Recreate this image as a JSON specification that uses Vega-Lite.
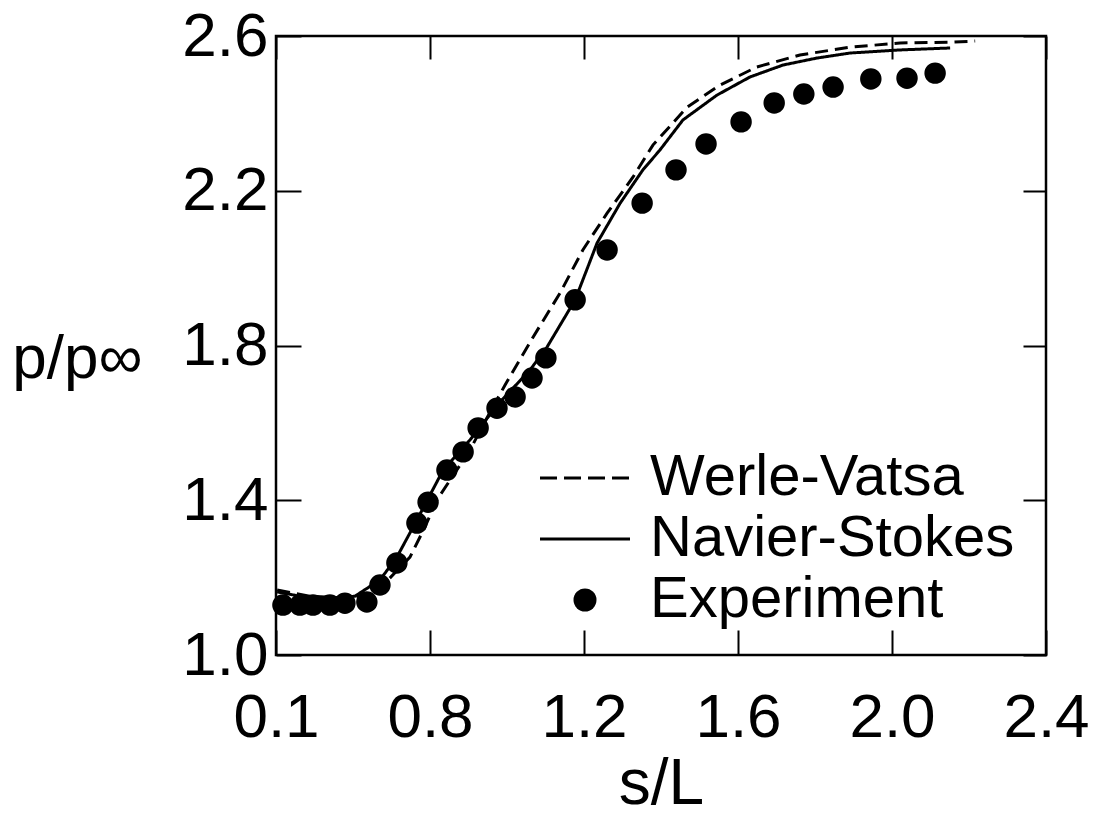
{
  "$schema": "https://vega.github.io/schema/vega-lite/v6.json",
  "width": 770,
  "height": 619,
  "autosize": "none",
  "padding": {"left": 276, "top": 36, "right": 61, "bottom": 164},
  "background": "white",
  "config": {
    "view": {"stroke": "black", "strokeWidth": 2.5},
    "font": "Liberation Sans",
    "axis": {"domain": false, "grid": false, "tickColor": "black", "tickWidth": 2, "labelColor": "black", "titleColor": "black", "labelFont": "Liberation Sans", "titleFont": "Liberation Sans", "titleFontWeight": "normal"}
  },
  "datasets": {
    "curves": [
      {"series": "Werle-Vatsa", "s": 0.403, "p": 1.168},
      {"series": "Werle-Vatsa", "s": 0.488, "p": 1.152},
      {"series": "Werle-Vatsa", "s": 0.592, "p": 1.147},
      {"series": "Werle-Vatsa", "s": 0.657, "p": 1.160},
      {"series": "Werle-Vatsa", "s": 0.691, "p": 1.194},
      {"series": "Werle-Vatsa", "s": 0.748, "p": 1.253},
      {"series": "Werle-Vatsa", "s": 0.787, "p": 1.331},
      {"series": "Werle-Vatsa", "s": 0.818, "p": 1.401},
      {"series": "Werle-Vatsa", "s": 0.852, "p": 1.452},
      {"series": "Werle-Vatsa", "s": 0.904, "p": 1.530},
      {"series": "Werle-Vatsa", "s": 0.948, "p": 1.613},
      {"series": "Werle-Vatsa", "s": 0.995, "p": 1.698},
      {"series": "Werle-Vatsa", "s": 1.068, "p": 1.822},
      {"series": "Werle-Vatsa", "s": 1.138, "p": 1.936},
      {"series": "Werle-Vatsa", "s": 1.197, "p": 2.047},
      {"series": "Werle-Vatsa", "s": 1.260, "p": 2.142},
      {"series": "Werle-Vatsa", "s": 1.327, "p": 2.235},
      {"series": "Werle-Vatsa", "s": 1.379, "p": 2.318},
      {"series": "Werle-Vatsa", "s": 1.468, "p": 2.416},
      {"series": "Werle-Vatsa", "s": 1.553, "p": 2.473},
      {"series": "Werle-Vatsa", "s": 1.649, "p": 2.520},
      {"series": "Werle-Vatsa", "s": 1.761, "p": 2.551},
      {"series": "Werle-Vatsa", "s": 1.891, "p": 2.571},
      {"series": "Werle-Vatsa", "s": 2.021, "p": 2.582},
      {"series": "Werle-Vatsa", "s": 2.151, "p": 2.584},
      {"series": "Werle-Vatsa", "s": 2.216, "p": 2.587},
      {"series": "Navier-Stokes", "s": 0.403, "p": 1.163},
      {"series": "Navier-Stokes", "s": 0.462, "p": 1.152},
      {"series": "Navier-Stokes", "s": 0.540, "p": 1.147},
      {"series": "Navier-Stokes", "s": 0.605, "p": 1.152},
      {"series": "Navier-Stokes", "s": 0.670, "p": 1.194},
      {"series": "Navier-Stokes", "s": 0.714, "p": 1.253},
      {"series": "Navier-Stokes", "s": 0.766, "p": 1.349},
      {"series": "Navier-Stokes", "s": 0.834, "p": 1.478},
      {"series": "Navier-Stokes", "s": 0.904, "p": 1.556},
      {"series": "Navier-Stokes", "s": 0.982, "p": 1.654},
      {"series": "Navier-Stokes", "s": 1.060, "p": 1.737},
      {"series": "Navier-Stokes", "s": 1.104, "p": 1.796},
      {"series": "Navier-Stokes", "s": 1.177, "p": 1.918},
      {"series": "Navier-Stokes", "s": 1.234, "p": 2.065},
      {"series": "Navier-Stokes", "s": 1.294, "p": 2.168},
      {"series": "Navier-Stokes", "s": 1.353, "p": 2.254},
      {"series": "Navier-Stokes", "s": 1.397, "p": 2.305},
      {"series": "Navier-Stokes", "s": 1.457, "p": 2.383},
      {"series": "Navier-Stokes", "s": 1.545, "p": 2.447},
      {"series": "Navier-Stokes", "s": 1.631, "p": 2.494},
      {"series": "Navier-Stokes", "s": 1.717, "p": 2.525},
      {"series": "Navier-Stokes", "s": 1.805, "p": 2.543},
      {"series": "Navier-Stokes", "s": 1.891, "p": 2.556},
      {"series": "Navier-Stokes", "s": 2.021, "p": 2.564},
      {"series": "Navier-Stokes", "s": 2.151, "p": 2.569}
    ],
    "experiment": [
      {"series": "Experiment", "s": 0.418, "p": 1.129},
      {"series": "Experiment", "s": 0.462, "p": 1.129},
      {"series": "Experiment", "s": 0.496, "p": 1.129},
      {"series": "Experiment", "s": 0.540, "p": 1.129},
      {"series": "Experiment", "s": 0.579, "p": 1.134},
      {"series": "Experiment", "s": 0.636, "p": 1.137},
      {"series": "Experiment", "s": 0.670, "p": 1.181},
      {"series": "Experiment", "s": 0.714, "p": 1.238},
      {"series": "Experiment", "s": 0.766, "p": 1.341},
      {"series": "Experiment", "s": 0.795, "p": 1.395},
      {"series": "Experiment", "s": 0.844, "p": 1.478},
      {"series": "Experiment", "s": 0.886, "p": 1.525},
      {"series": "Experiment", "s": 0.925, "p": 1.587},
      {"series": "Experiment", "s": 0.974, "p": 1.638},
      {"series": "Experiment", "s": 1.021, "p": 1.667},
      {"series": "Experiment", "s": 1.065, "p": 1.716},
      {"series": "Experiment", "s": 1.101, "p": 1.768},
      {"series": "Experiment", "s": 1.177, "p": 1.918},
      {"series": "Experiment", "s": 1.260, "p": 2.047},
      {"series": "Experiment", "s": 1.351, "p": 2.168},
      {"series": "Experiment", "s": 1.439, "p": 2.254},
      {"series": "Experiment", "s": 1.517, "p": 2.321},
      {"series": "Experiment", "s": 1.608, "p": 2.378},
      {"series": "Experiment", "s": 1.694, "p": 2.427},
      {"series": "Experiment", "s": 1.771, "p": 2.450},
      {"series": "Experiment", "s": 1.847, "p": 2.468},
      {"series": "Experiment", "s": 1.945, "p": 2.489},
      {"series": "Experiment", "s": 2.039, "p": 2.491},
      {"series": "Experiment", "s": 2.112, "p": 2.504}
    ]
  },
  "layer": [
    {
      "data": {"name": "curves"},
      "mark": {"type": "line", "strokeWidth": 3},
      "encoding": {
        "x": {
          "field": "s", "type": "quantitative",
          "scale": {"domain": [0.4, 2.4], "nice": false, "zero": false},
          "axis": {
            "orient": "bottom", "values": [0.4, 0.8, 1.2, 1.6, 2.0, 2.4],
            "labelExpr": "datum.value < 0.5 ? '0.1' : format(datum.value, '.1f')",
            "tickSize": -25, "labelPadding": 57, "labelFontSize": 62, "labelFlush": false,
            "title": "s/L", "titleFontSize": 64, "titleBaseline": "bottom", "titleY": 161
          }
        },
        "y": {
          "field": "p", "type": "quantitative",
          "scale": {"domain": [1.0, 2.6], "nice": false, "zero": false},
          "axis": {
            "orient": "left", "values": [1.0, 1.4, 1.8, 2.2, 2.6],
            "format": ".1f", "tickSize": -25, "labelPadding": 33, "labelFontSize": 62,
            "title": "p/p∞", "titleFontSize": 62, "titleAngle": 0, "titleAlign": "center",
            "titleBaseline": "middle", "titleX": -199, "titleY": 322
          }
        },
        "color": {
          "field": "series", "type": "nominal",
          "scale": {"domain": ["Werle-Vatsa", "Navier-Stokes", "Experiment"], "range": ["black", "black", "black"]},
          "legend": {
            "orient": "none", "legendX": 280, "legendY": 413, "title": null,
            "labelFont": "Liberation Sans", "labelFontSize": 58, "labelColor": "black", "labelLimit": 0,
            "symbolSize": 8100, "symbolType": "stroke", "symbolStrokeWidth": 3,
            "labelOffset": 36, "rowPadding": 3, "padding": 0,
            "encode": {
              "symbols": {
                "update": {
                  "shape": {"signal": "datum.value === 'Experiment' ? 'circle' : 'stroke'"},
                  "size": {"signal": "datum.value === 'Experiment' ? 529 : 8100"},
                  "strokeDash": {"signal": "datum.value === 'Werle-Vatsa' ? [17, 7] : [1, 0]"},
                  "fill": {"signal": "datum.value === 'Experiment' ? 'black' : 'transparent'"},
                  "stroke": {"value": "black"},
                  "strokeWidth": {"signal": "datum.value === 'Experiment' ? 0 : 3"},
                  "opacity": {"value": 1}
                }
              }
            }
          }
        },
        "strokeDash": {
          "field": "series", "type": "nominal",
          "scale": {"domain": ["Werle-Vatsa", "Navier-Stokes"], "range": [[13, 7], [1, 0]]},
          "legend": null
        }
      }
    },
    {
      "data": {"name": "experiment"},
      "mark": {"type": "point", "filled": true, "size": 460, "opacity": 1},
      "encoding": {
        "x": {
          "field": "s", "type": "quantitative",
          "axis": {"orient": "top", "values": [0.4, 0.8, 1.2, 1.6, 2.0, 2.4], "labels": false, "tickSize": -23, "title": null}
        },
        "y": {
          "field": "p", "type": "quantitative",
          "axis": {"orient": "right", "values": [1.0, 1.4, 1.8, 2.2, 2.6], "labels": false, "tickSize": -23, "title": null}
        },
        "color": {"field": "series", "type": "nominal"}
      }
    }
  ],
  "resolve": {"axis": {"x": "independent", "y": "independent"}}
}
